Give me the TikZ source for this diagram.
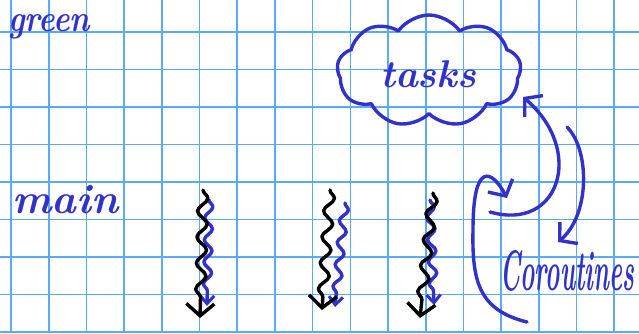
\documentclass[tikz,border=0pt]{standalone}
\usetikzlibrary{shapes.symbols,decorations.pathmorphing,arrows.meta}
\definecolor{inkblue}{RGB}{50,50,200}
\definecolor{gridblue}{RGB}{90,170,250}
\begin{document}
\begin{tikzpicture}[x=1pt,y=-1pt,
  ink/.style={draw=inkblue,line width=3.4pt,line cap=round,line join=round},
  blackink/.style={draw=black,line width=3.4pt,line cap=round,line join=round},
  head/.style={-{Straight Barb[length=12pt,width=28pt,line width=3.4pt]}},
  smallhead/.style={-{Straight Barb[length=8pt,width=14pt,line width=3pt]}},
  wavy/.style={decorate,decoration={snake,amplitude=5pt,segment length=26pt,post length=10pt}},
  wavyb/.style={decorate,decoration={snake,amplitude=4pt,segment length=22pt,post length=8pt}},
  hand/.style={text=inkblue,font=\bfseries\itshape,inner sep=0pt,anchor=base west}]
\useasboundingbox (0,0) rectangle (639,333);
\fill[white] (0,0) rectangle (639,333);
% grid
\foreach \i in {0,...,16} \draw[gridblue,line width=1.6pt] ({11+37.7*\i},0) -- ++(0,333);
\foreach \j in {0,...,8} \draw[gridblue,line width=1.6pt] (0,{32+37.5*\j}) -- ++(639,0);
% texts
\node[hand] (green) at (8,31) {\resizebox{82pt}{17pt}{\fontsize{36}{38}\selectfont green}};
\node[hand] (main) at (12,213) {\resizebox{106pt}{!}{\fontsize{40}{42}\selectfont main}};
\node[hand] (coro) at (500,290) {\resizebox{134pt}{40pt}{\fontsize{30}{32}\selectfont Coroutines}};
% cloud
\node[cloud,cloud puffs=9,cloud puff arc=110,aspect=1.7,ink,minimum width=184pt,minimum height=112pt,inner sep=0pt] (tasks) at (429,71) {};
\node[hand] (tasksl) at (380,87) {\resizebox{96pt}{!}{\fontsize{40}{42}\selectfont tasks}};
% arrows on the right
\coordinate (a1s) at (490,212);
\coordinate (a1e) at (523,97);
\coordinate (a2s) at (567,127);
\coordinate (a2e) at (558,242);
\coordinate (a3s) at (527,322);
\coordinate (a3e) at (507,198);
\draw[ink,head] (a1s) .. controls (560,232) and (585,150) .. (a1e);
\draw[ink,head] (a2s) .. controls (590,150) and (590,215) .. (a2e);
\draw[ink,head] (a3s) .. controls (478,310) and (472,280) .. (473,230)
   .. controls (473,160) and (492,170) .. (a3e);
% wavy arrows
\coordinate (ba1) at (203,190); \coordinate (ba2) at (200,318);
\coordinate (bb1) at (330,190); \coordinate (bb2) at (322,310);
\coordinate (bc1) at (433,193); \coordinate (bc2) at (420,318);
\coordinate (ua1) at (209,200); \coordinate (ua2) at (207,306);
\coordinate (ub1) at (345,203); \coordinate (ub2) at (335,307);
\coordinate (uc1) at (430,200); \coordinate (uc2) at (434,305);
\draw[ink,smallhead,wavyb] (ua1) -- (ua2);
\draw[ink,smallhead,wavyb] (ub1) -- (ub2);
\draw[ink,smallhead,wavyb] (uc1) -- (uc2);
\draw[blackink,head,wavy] (ba1) -- (ba2);
\draw[blackink,head,wavy] (bb1) -- (bb2);
\draw[blackink,head,wavy] (bc1) -- (bc2);
\end{tikzpicture}
\end{document}
